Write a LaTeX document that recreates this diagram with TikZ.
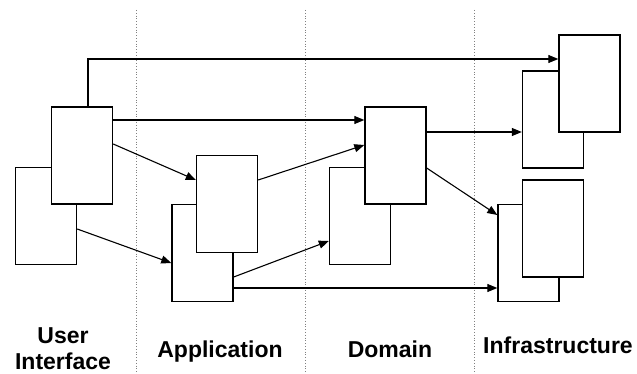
\documentclass[tikz,border=0pt]{standalone}
\usepackage{fontspec}
\setmainfont{Liberation Sans}
\usetikzlibrary{arrows.meta}

\begin{document}
\begin{tikzpicture}[x=1pt, y=-1pt, ->, >={Triangle[length=10pt,width=8pt]},
                line width=1.1pt,
                box/.style={draw, fill=white, line width=1.4pt, inner sep=0pt,
                            minimum width=61pt, minimum height=97pt},
                layer/.style={-, gray, dotted, line width=0.8pt},
                title/.style={font=\fontsize{23}{26}\selectfont\bfseries,
                              anchor=base, align=center}]

  \useasboundingbox (0,0) rectangle (637,374);

  % layer borders
  \foreach \x in {136,305,474}
    \draw[layer] (\x,10) -- (\x,374);

  % pairs of modules, back one first
  \node[box] (ui back) at (46,216) {};
  \node[box] (ui front) at (82,155.5) {};
  \node[box] (app back) at (202.5,253) {};
  \node[box] (app front) at (227,204) {};
  \node[box] (dom back) at (360,216) {};
  \node[box] (dom front) at (395.5,155.5) {};
  \node[box] (inft back) at (553,119.5) {};
  \node[box] (inft front) at (589.5,83.5) {};
  \node[box] (infb back) at (528.5,253) {};
  \node[box] (infb front) at (553,228.5) {};

  % dependencies
  \draw ([xshift=6pt]ui front.north) |- ([yshift=24.5pt]inft front.west);
  \draw ([yshift=35.5pt]ui front.east) -- ([yshift=35.5pt]dom front.west);
  \draw ([yshift=11.5pt]ui front.east) -- ([yshift=24pt]app front.west);
  \draw ([yshift=-13pt]ui back.east) -- ([yshift=-10pt]app back.west);
  \draw ([yshift=24pt]app front.east) -- ([yshift=10.5pt]dom front.west);
  \draw ([yshift=-24pt]app back.east) -- ([yshift=-25pt]dom back.west);
  \draw ([yshift=-35pt]app back.east) -- ([yshift=-35pt]infb back.west);
  \draw ([yshift=23.5pt]dom front.east) -- ([yshift=-12.5pt]inft back.west);
  \draw ([yshift=-12.5pt]dom front.east) -- ([yshift=38pt]infb back.west);

  % layer names
  \node[title] (ui label) at (63,369) {User\\Interface};
  \node[title] (app label) at (220,357) {Application};
  \node[title] (dom label) at (390,357) {Domain};
  \node[title] (inf label) at (558,353) {Infrastructure};
\end{tikzpicture}
\end{document}
